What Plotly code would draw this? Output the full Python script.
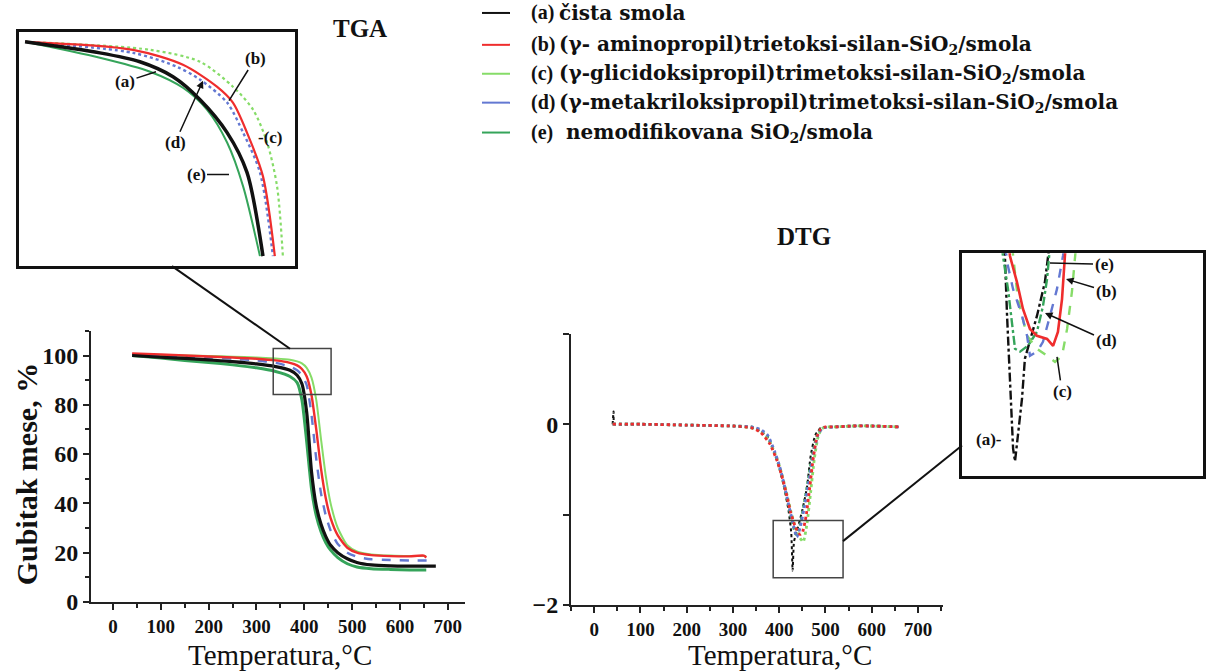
import plotly.graph_objects as go

W, H = 1208, 671
SERIF = "Liberation Serif"
WIDE = "DejaVu Serif"

# ---------------- series meta ----------------
keys = ["a", "b", "c", "d", "e"]
tags = ["(a)", "(b)", "(c)", "(d)", "(e)"]
labels = [
    "čista smola",
    "(γ- aminopropil)trietoksi-silan-SiO<sub>2</sub>/smola",
    "(γ-glicidoksipropil)trimetoksi-silan-SiO<sub>2</sub>/smola",
    "(γ-metakriloksipropil)trimetoksi-silan-SiO<sub>2</sub>/smola",
    " nemodifikovana SiO<sub>2</sub>/smola",
]
colors = {"a": "#111111", "b": "#ef2d2d", "c": "#86dc68", "d": "#6378d2", "e": "#35a45a"}
x_title = "Temperatura,°C"
y_title = "Gubitak mese, %"

# ---------------- TGA (main) ----------------
tga_T = {
    "a": [40, 100, 150, 200, 250, 300, 340, 370, 385, 395, 405, 415, 425, 435, 445, 455, 470, 490, 510, 540, 580, 620, 675],
    "b": [40, 100, 150, 200, 250, 300, 340, 370, 385, 395, 405, 415, 425, 435, 445, 455, 470, 490, 510, 540, 580, 620, 650, 655],
    "c": [40, 100, 150, 200, 250, 300, 340, 370, 385, 395, 405, 415, 425, 435, 445, 455, 470, 490, 510, 540, 580, 620, 655],
    "d": [40, 100, 150, 200, 250, 300, 340, 370, 385, 395, 405, 415, 425, 435, 445, 455, 470, 490, 510, 540, 580, 620, 660],
    "e": [40, 100, 150, 200, 250, 300, 340, 370, 385, 395, 405, 415, 425, 435, 445, 455, 470, 490, 510, 540, 580, 620, 655],
}
tga_mass = {
    "a": [100, 99.3, 98.8, 98.2, 97.5, 96.6, 95.5, 94, 92, 88.5, 77, 53, 39, 31.5, 26.5, 23, 20, 17.5, 16, 15, 14.6, 14.5, 14.5],
    "b": [100.8, 100.4, 100, 99.6, 99.2, 98.7, 98, 97, 96, 94.5, 91.5, 84, 70, 54, 42, 34, 27, 22, 20, 19, 18.6, 18.5, 18.8, 18],
    "c": [100.5, 100.2, 100, 99.8, 99.5, 99.2, 98.8, 98.3, 97.6, 96.8, 95, 91, 82, 66, 51, 40, 30, 23, 20.5, 19.3, 18.8, 18.6, 18.6],
    "d": [100.5, 100, 99.6, 99.2, 98.7, 98, 97, 95.5, 94, 92, 88, 76, 58, 44, 35, 29, 23.5, 20, 18.3, 17.3, 17, 16.8, 16.8],
    "e": [100, 99, 98, 97.2, 96.2, 95, 93.5, 91.5, 89, 82, 65, 46, 35, 28.5, 24, 21, 18, 15.5, 14.2, 13.5, 13.2, 13, 13],
}
tga_style = {
    "a": dict(width=3.2, dash="solid"),
    "b": dict(width=2.4, dash="solid"),
    "c": dict(width=2.0, dash="solid"),
    "d": dict(width=2.4, dash="dash"),
    "e": dict(width=3.0, dash="solid"),
}

# ---------------- TGA (enlarged detail) ----------------
tga_zoom_T = {
    "a": [352.2, 379.3, 393.8, 405.8, 415.6, 425.4, 432.6, 438.4],
    "b": [352.2, 391.3, 409.4, 421.7, 427.5, 432.6, 438.4, 442.7],
    "c": [352.2, 397.5, 415.6, 427.5, 434.8, 439.9, 443.5, 445.6],
    "d": [352.2, 391.3, 407.2, 415.6, 425.4, 431.2, 437.3, 442.0],
    "e": [352.2, 379.3, 397.5, 409.4, 418.1, 425.4, 431.2, 437.3],
}
tga_zoom_mass = {
    "a": [99.15, 98.21, 97.45, 96.17, 94.21, 91.40, 88.0, 80.85],
    "b": [99.15, 98.47, 97.19, 95.32, 93.96, 91.40, 87.66, 80.85],
    "c": [99.15, 98.47, 97.45, 95.32, 93.36, 90.55, 86.81, 80.85],
    "d": [99.15, 98.21, 97.02, 95.92, 93.96, 91.40, 88.0, 80.85],
    "e": [99.15, 97.79, 96.6, 95.23, 93.36, 90.55, 86.81, 80.85],
}
tga_zoom_style = {
    "a": dict(width=3.5, dash="solid"),
    "b": dict(width=2.2, dash="solid"),
    "c": dict(width=2.2, dash="dot"),
    "d": dict(width=2.4, dash="dot"),
    "e": dict(width=2.0, dash="solid"),
}

# ---------------- DTG (main) ----------------
dtg_T = {
    "a": [40, 42, 44, 100, 200, 300, 340, 360, 375, 390, 400, 410, 420, 426, 429, 432, 440, 450, 460, 468, 478, 490, 520, 560, 600, 660],
    "b": [40, 100, 200, 300, 340, 360, 380, 395, 405, 415, 425, 435, 445, 450, 458, 466, 474, 482, 490, 500, 520, 560, 600, 660],
    "c": [40, 100, 200, 300, 340, 360, 380, 395, 405, 415, 425, 435, 445, 452, 460, 468, 476, 484, 492, 502, 520, 560, 600, 660],
    "d": [40, 100, 200, 300, 340, 360, 375, 390, 400, 410, 420, 430, 438, 445, 455, 465, 475, 485, 495, 520, 560, 600, 660],
    "e": [40, 100, 200, 300, 340, 360, 375, 390, 400, 410, 420, 430, 436, 444, 454, 464, 474, 484, 494, 520, 560, 600, 660],
}
dtg_val = {
    "a": [0, 0.14, 0, 0, -0.01, -0.02, -0.04, -0.08, -0.15, -0.32, -0.48, -0.68, -0.95, -1.2, -1.62, -1.3, -1.15, -0.95, -0.7, -0.35, -0.12, -0.04, -0.03, -0.02, -0.02, -0.03],
    "b": [0, 0, -0.01, -0.02, -0.04, -0.09, -0.22, -0.4, -0.56, -0.76, -0.98, -1.14, -1.22, -1.2, -1.02, -0.7, -0.36, -0.13, -0.05, -0.03, -0.03, -0.02, -0.02, -0.03],
    "c": [0, 0, -0.01, -0.02, -0.04, -0.08, -0.2, -0.38, -0.54, -0.74, -0.96, -1.14, -1.26, -1.3, -1.1, -0.75, -0.38, -0.14, -0.05, -0.03, -0.03, -0.02, -0.02, -0.03],
    "d": [0, 0, -0.01, -0.02, -0.03, -0.06, -0.12, -0.3, -0.45, -0.65, -0.88, -1.1, -1.25, -1.15, -0.9, -0.6, -0.3, -0.1, -0.04, -0.03, -0.02, -0.02, -0.03],
    "e": [0, 0, -0.01, -0.02, -0.03, -0.07, -0.14, -0.32, -0.47, -0.67, -0.9, -1.12, -1.22, -1.14, -0.88, -0.58, -0.28, -0.09, -0.04, -0.03, -0.02, -0.02, -0.03],
}

# ---------------- DTG (enlarged detail) ----------------
dtg_zoom_T = {
    "a": [417.5, 417.8, 418.7, 419.9, 421.2, 422.0, 424.9, 426.1, 431.1, 434.4, 435.7, 436.2],
    "b": [419.5, 419.9, 422.8, 425.3, 428.2, 431.1, 435.3, 437.8, 439.8, 441.5, 442.7, 443.0],
    "c": [420.8, 421.2, 423.2, 427.0, 431.1, 435.3, 438.6, 441.5, 443.6, 445.6, 446.9, 447.3],
    "d": [418.0, 418.7, 421.2, 424.9, 427.0, 428.2, 431.1, 433.6, 436.5, 439.4, 441.9, 442.4],
    "e": [416.5, 417.0, 419.1, 420.8, 422.0, 424.1, 427.4, 431.1, 433.6, 435.3, 436.1, 436.5],
}
dtg_zoom_val = {
    "a": [-0.98, -1.009, -1.197, -1.403, -1.613, -1.653, -1.456, -1.331, -1.197, -1.091, -1.009, -0.98],
    "b": [-0.98, -1.009, -1.091, -1.175, -1.238, -1.259, -1.269, -1.291, -1.247, -1.144, -1.009, -0.98],
    "c": [-0.98, -1.009, -1.144, -1.259, -1.300, -1.322, -1.341, -1.322, -1.238, -1.122, -1.009, -0.98],
    "d": [-0.98, -1.028, -1.113, -1.197, -1.259, -1.322, -1.309, -1.278, -1.197, -1.113, -1.009, -0.98],
    "e": [-0.98, -1.009, -1.113, -1.216, -1.300, -1.309, -1.290, -1.247, -1.166, -1.081, -1.009, -0.98],
}
dtg_zoom_style = {
    "a": dict(width=2.4, dash="dashdot"),
    "b": dict(width=2.6, dash="solid"),
    "c": dict(width=2.4, dash="dash"),
    "d": dict(width=2.4, dash="dash"),
    "e": dict(width=2.4, dash="dashdot"),
}

# ---------------- build figure ----------------
fig = go.Figure()
draw_order = ["c", "e", "d", "b", "a"]

for k in draw_order:
    fig.add_trace(go.Scatter(x=tga_T[k], y=tga_mass[k], mode="lines", xaxis="x", yaxis="y",
                             line=dict(color=colors[k], shape="spline", smoothing=0.6, **tga_style[k]),
                             showlegend=False, hoverinfo="skip"))
for k in draw_order:
    fig.add_trace(go.Scatter(x=tga_zoom_T[k], y=tga_zoom_mass[k], mode="lines", xaxis="x3", yaxis="y3",
                             line=dict(color=colors[k], shape="spline", smoothing=0.8, **tga_zoom_style[k]),
                             showlegend=False, hoverinfo="skip"))
for k in ["a", "e", "c", "d", "b"]:
    fig.add_trace(go.Scatter(x=dtg_T[k], y=dtg_val[k], mode="lines", xaxis="x2", yaxis="y2",
                             line=dict(color=colors[k], shape="spline", smoothing=0.5,
                                       width=2.0 if k == "a" else 2.8, dash="dot"),
                             showlegend=False, hoverinfo="skip"))
for k in ["a", "e", "c", "d", "b"]:
    fig.add_trace(go.Scatter(x=dtg_zoom_T[k], y=dtg_zoom_val[k], mode="lines", xaxis="x4", yaxis="y4",
                             line=dict(color=colors[k], **dtg_zoom_style[k]),
                             showlegend=False, hoverinfo="skip"))

VSCALE = 0.984  # vertical layout factor for the page


def px(x):
    return x / W


def py(y):
    return 1 - (y / VSCALE) / H


tick_font_y = dict(family=SERIF, size=24, color="#111", weight="bold")
tick_font_x = dict(family=SERIF, size=19, color="#111", weight="bold")
axis_common = dict(showgrid=False, zeroline=False, showline=True, linecolor="#222", linewidth=2,
                   ticks="outside", tickcolor="#222", tickwidth=2)
frame_axis = dict(showgrid=False, zeroline=False, showticklabels=False, ticks="", showline=True,
                  mirror=True, linecolor="#111", linewidth=3)

fig.update_layout(
    width=W, height=H, margin=dict(l=0, r=0, t=0, b=0),
    paper_bgcolor="white", plot_bgcolor="rgba(0,0,0,0)",
    font=dict(family=SERIF, color="#111"),
    showlegend=False,
    xaxis=dict(domain=[px(91), px(465)], range=[-46, 736], anchor="y", dtick=100, tick0=0, ticklen=6,
               tickfont=tick_font_x, minor=dict(ticks="outside", dtick=50, tick0=0, ticklen=4, tickcolor="#222"),
               **axis_common),
    yaxis=dict(domain=[py(604), py(332)], range=[0, 110], anchor="x", dtick=20, tick0=0, ticklen=6,
               tickfont=tick_font_y,
               minor=dict(ticks="outside", dtick=10, tick0=0, ticklen=4, tickcolor="#222"),
               **axis_common),
    xaxis2=dict(domain=[px(571), px(943)], range=[-50, 754], anchor="y2", dtick=100, tick0=0, ticklen=6,
                tickfont=tick_font_x, minor=dict(ticks="outside", dtick=50, tick0=0, ticklen=4, tickcolor="#222"),
                **axis_common),
    yaxis2=dict(domain=[py(607), py(335)], range=[-2, 1], anchor="x2", dtick=2, tick0=0, ticklen=6,
                tickfont=tick_font_y,
                minor=dict(ticks="outside", dtick=1, tick0=0, ticklen=6, tickcolor="#222"),
                **axis_common),
    xaxis3=dict(domain=[px(19), px(295)], range=[350, 450], anchor="y3", **frame_axis),
    yaxis3=dict(domain=[py(267), py(32)], range=[80, 100], anchor="x3", **frame_axis),
    xaxis4=dict(domain=[px(962), px(1203)], range=[400, 500], anchor="y4", **frame_axis),
    yaxis4=dict(domain=[py(478), py(254)], range=[-1.7, -1.0], anchor="x4", **frame_axis),
)

shapes = []
# framed regions in the main plots and their connector lines
shapes.append(dict(type="rect", xref="x", yref="y", x0=335, x1=456, y0=84.2, y1=102.8,
                   line=dict(color="#444", width=1.5)))
shapes.append(dict(type="line", xref="paper", yref="paper", x0=px(172), y0=py(267), x1=px(290), y1=py(350),
                   line=dict(color="#111", width=2)))
shapes.append(dict(type="rect", xref="x2", yref="y2", x0=387, x1=538, y0=-1.70, y1=-1.066,
                   line=dict(color="#444", width=1.5)))
shapes.append(dict(type="line", xref="paper", yref="paper", x0=px(843), y0=py(543), x1=px(962), y1=py(447),
                   line=dict(color="#111", width=2)))

# legend swatches
legend_rows = [13, 45, 74, 103, 133]
for k, yy in zip(keys, legend_rows):
    shapes.append(dict(type="line", xref="paper", yref="paper", x0=px(482), x1=px(510), y0=py(yy), y1=py(yy),
                       line=dict(color=colors[k], width=2)))
fig.update_layout(shapes=shapes)


def text_at(text, x, y, font, xanchor="center", angle=0):
    return dict(xref="paper", yref="paper", x=px(x), y=py(y), xanchor=xanchor, yanchor="middle",
                text=text, showarrow=False, font=font, textangle=angle)


ann = []
for t, lab, yy in zip(tags, labels, legend_rows):
    ann.append(text_at(f"<b>{t}</b>", 529, yy, dict(family=SERIF, size=20, color="#111"), "left"))
    ann.append(text_at(f"<b>{lab}</b>", 557, yy, dict(family=WIDE, size=20, color="#111"), "left"))

ann.append(text_at("<b>TGA</b>", 360, 29, dict(family=SERIF, size=25, color="#111")))
ann.append(text_at("<b>DTG</b>", 804, 237, dict(family=SERIF, size=25, color="#111")))

# axis titles
title_font = dict(family=SERIF, size=29, color="#111")
ann.append(text_at(x_title, 280, 657, title_font))
ann.append(text_at(x_title, 780, 657, title_font))
ann.append(text_at(f"<b>{y_title}</b>", 26, 476, dict(family=SERIF, size=30, color="#111"), angle=-90))

lab_font = dict(family=SERIF, size=17, color="#111")


def pointer(text, head, tail, arrowhead=0):
    # head/tail in figure pixels; tail is the label centre
    hx, hy = head[0], head[1] / VSCALE
    tx, ty = tail[0], tail[1] / VSCALE
    return dict(xref="paper", yref="paper", x=hx / W, y=1 - hy / H, text=f"<b>{text}</b>",
                showarrow=True, axref="pixel", ayref="pixel", ax=tx - hx, ay=ty - hy,
                arrowhead=arrowhead, arrowsize=1, arrowwidth=1.5, arrowcolor="#111", font=lab_font)


# TGA detail labels
ann.append(pointer("(a)", (156, 72), (125, 82)))
ann.append(pointer("(b)", (229, 101), (255, 60)))
ann.append(pointer("(d)", (203, 81), (175, 142), arrowhead=2))
ann.append(pointer("(e)", (229, 175), (196, 175)))
ann.append(text_at("<b>-(c)</b>", 270, 138, lab_font))

# DTG detail labels
ann.append(pointer("(e)", (1050, 264), (1104, 265)))
ann.append(pointer("(b)", (1066, 280), (1106, 292), arrowhead=2))
ann.append(pointer("(d)", (1045, 314), (1106, 341), arrowhead=2))
ann.append(pointer("(c)", (1057, 358), (1062, 392)))
ann.append(text_at("<b>(a)-</b>", 989, 441, lab_font))

fig.update_layout(annotations=ann)

fig.write_html("out.html")
